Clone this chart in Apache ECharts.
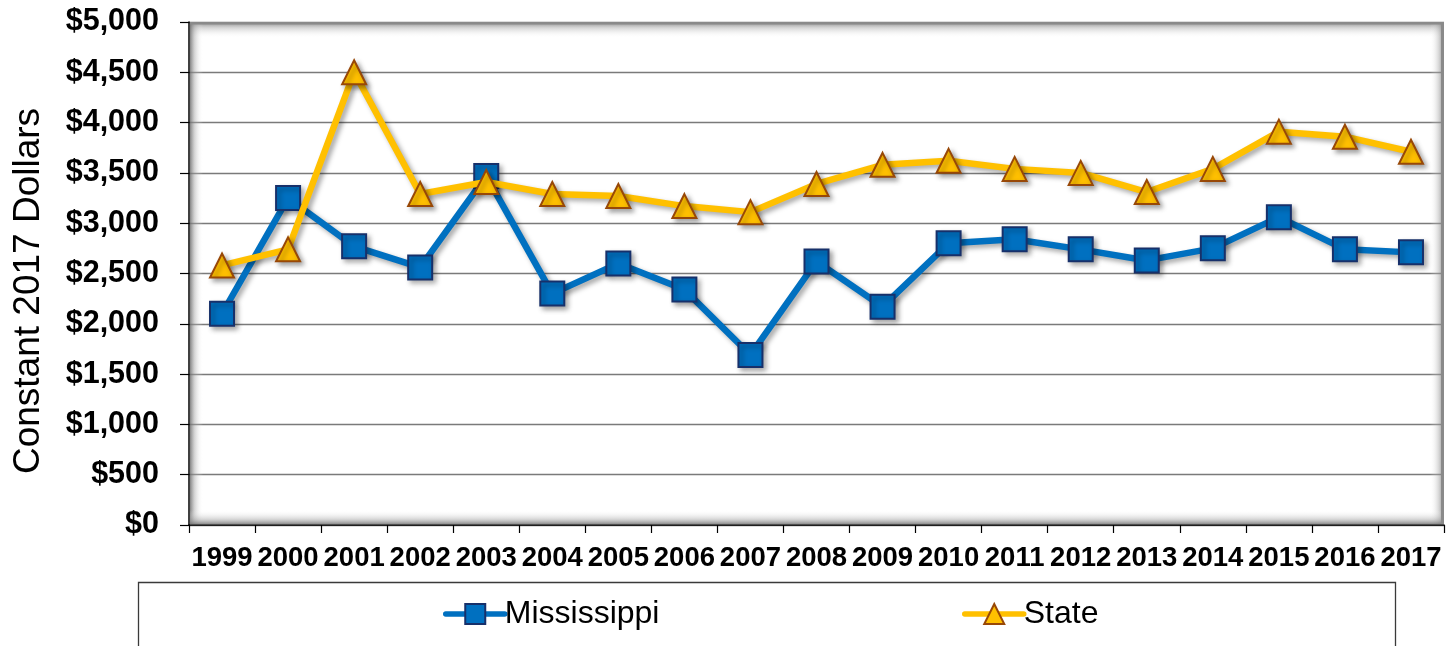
<!DOCTYPE html>
<html>
<head>
<meta charset="utf-8">
<script src="https://cdn.jsdelivr.net/npm/echarts@6/dist/echarts.min.js"></script>
<style>
  html, body { margin: 0; padding: 0; background: #fff; }
  #chart { width: 1446px; height: 646px; }
</style>
</head>
<body>
<div id="chart"></div>
<script>
// Years on the category axis
const years = ['1999','2000','2001','2002','2003','2004','2005','2006','2007','2008',
               '2009','2010','2011','2012','2013','2014','2015','2016','2017'];

// Spending per year, constant 2017 dollars
const mississippi = [2100, 3250, 2770, 2560, 3470, 2300, 2600, 2340, 1690, 2620,
                     2170, 2800, 2840, 2740, 2630, 2750, 3060, 2740, 2710];
const state = [2580, 2740, 4500, 3290, 3410, 3290, 3270, 3170, 3110, 3390,
               3580, 3620, 3540, 3500, 3310, 3540, 3910, 3860, 3710];

// Value axis range
const yMin = 0, yMax = 5000, yStep = 500;

const FONT = '"Liberation Sans", Arial, sans-serif';
const G = { left: 189, top: 22, right: 1444, bottom: 525 };

const chart = echarts.init(document.getElementById('chart'), null, { renderer: 'canvas' });

function edgeShade(x, y, w, h, gx, gy, gx2, gy2) {
  return {
    type: 'rect', z: 1, silent: true,
    shape: { x: x, y: y, width: w, height: h },
    style: {
      fill: new echarts.graphic.LinearGradient(gx, gy, gx2, gy2, [
        { offset: 0, color: 'rgba(110,110,110,0.85)' },
        { offset: 0.35, color: 'rgba(160,160,160,0.45)' },
        { offset: 1, color: 'rgba(255,255,255,0)' }
      ])
    }
  };
}

function legendFor(name, left) {
  return {
    data: [name], left: left, top: 598, padding: 0,
    itemWidth: 59, itemHeight: 25,
    textStyle: { fontFamily: FONT, fontSize: 32, color: '#000', lineHeight: 32, padding: [0, 0, 0, -5] },
    lineStyle: { width: 5.5, cap: 'round', shadowBlur: 0, shadowOffsetX: 0, shadowOffsetY: 0, shadowColor: 'transparent' },
    itemStyle: { shadowBlur: 0, shadowOffsetX: 0, shadowOffsetY: 0, shadowColor: 'transparent' }
  };
}

function lineSeries(name, data, color, symbol, border, z) {
  const shadow = { shadowColor: 'rgba(0,0,0,0.35)', shadowBlur: 5, shadowOffsetX: 3, shadowOffsetY: 3 };
  return {
    name: name, type: 'line', data: data, z: z,
    symbol: symbol, symbolSize: 24,
    lineStyle: Object.assign({ color: color, width: 6.5, join: 'round' }, shadow),
    itemStyle: Object.assign({ color: color, borderColor: border, borderWidth: 2 }, shadow),
    emphasis: { disabled: true }
  };
}

const option = {
  backgroundColor: '#fff',
  animation: false,
  grid: {
    left: G.left, top: G.top, width: G.right - G.left, height: G.bottom - G.top,
    show: true, backgroundColor: '#fff', borderWidth: 0
  },
  xAxis: {
    type: 'category',
    data: years,
    boundaryGap: true,
    axisLine: { show: true, lineStyle: { color: '#000', width: 1.5 } },
    axisTick: { show: true, inside: false, length: 8, lineStyle: { color: '#000', width: 1.2 } },
    axisLabel: { interval: 0, hideOverlap: false, margin: 19, color: '#000', fontFamily: FONT, fontWeight: 'bold', fontSize: 27.5 },
    splitLine: { show: false }
  },
  yAxis: {
    type: 'value',
    min: yMin, max: yMax, interval: yStep,
    axisLine: { show: true, lineStyle: { color: '#000', width: 1.5 } },
    axisTick: { show: true, inside: false, length: 9, lineStyle: { color: '#000', width: 1.2 } },
    axisLabel: {
      margin: 30, color: '#000', fontFamily: FONT, fontWeight: 'bold', fontSize: 30.5,
      formatter: v => '$' + v.toLocaleString('en-US')
    },
    splitLine: { show: true, lineStyle: { color: '#7a7a7a', width: 1.3 } }
  },
  legend: [legendFor('Mississippi', 443), legendFor('State', 962)],
  graphic: [
    // soft inner shading along the plot frame
    edgeShade(G.left + 1, G.top, G.right - G.left - 1, 16, 0, 0, 0, 1),
    edgeShade(G.left + 1, G.top, 13, G.bottom - G.top - 1, 0, 0, 1, 0),
    edgeShade(G.right - 14, G.top, 14, G.bottom - G.top - 1, 1, 0, 0, 0),
    edgeShade(G.left + 1, G.bottom - 15, G.right - G.left - 1, 14.5, 0, 1, 0, 0),
    {
      type: 'rect', z: 1, silent: true,
      shape: { x: G.left + 1, y: G.top, width: G.right - G.left - 1, height: 2.5 },
      style: { fill: '#8a8a8a' }
    },
    {
      type: 'rect', z: 1, silent: true,
      shape: { x: G.right - 3, y: G.top, width: 3, height: G.bottom - G.top - 1 },
      style: { fill: '#8a8a8a' }
    },
    // legend frame
    {
      type: 'rect', z: 0, silent: true,
      shape: { x: 138.5, y: 582.5, width: 1257, height: 80 },
      style: { fill: 'none', stroke: '#3a3a3a', lineWidth: 1.3 }
    },
    // value axis title
    {
      type: 'text', z: 3, silent: true,
      x: 29, y: 291, rotation: Math.PI / 2,
      style: {
        text: 'Constant 2017 Dollars', fontFamily: FONT, fontSize: 37,
        fill: '#000', align: 'center', verticalAlign: 'middle'
      }
    }
  ],
  series: [
    lineSeries('Mississippi', mississippi, '#0070C0', 'rect', '#17306A', 3),
    lineSeries('State', state, '#FFC000', 'triangle', '#984807', 4)
  ]
};

chart.setOption(option);
</script>
</body>
</html>
